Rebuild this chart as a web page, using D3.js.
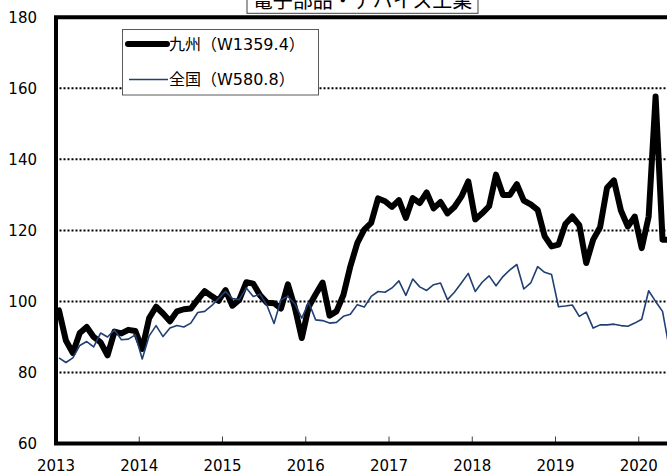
<!DOCTYPE html>
<html>
<head>
<meta charset="utf-8">
<script src="https://cdn.jsdelivr.net/npm/d3@7"></script>
<style>
  body { margin: 0; background: #fff; }
  svg { display: block; font-family: "DejaVu Sans", "Noto Sans CJK JP", sans-serif; }
</style>
</head>
<body>
<div id="chart"></div>
<script>
// monthly index, Jan 2013 .. May 2020
const yearLabels = [2013, 2014, 2015, 2016, 2017, 2018, 2019, 2020];
const yTicks = [60, 80, 100, 120, 140, 160, 180];
const gridValues = [80, 100, 120, 140, 160];
const chartTitle = "電子部品・デバイス工業";
const seriesNames = ["九州（W1359.4）", "全国（W580.8）"];

const kyushu = [
  97.5, 89.0, 85.5, 91.1, 92.8, 90.0, 88.5, 84.8, 91.5, 91.0, 92.0, 91.7,
  86.6, 95.3, 98.5, 96.6, 94.4, 97.2, 97.8, 98.0, 100.5, 102.9, 101.5, 100.2,
  103.2, 98.8, 100.5, 105.4, 105.0, 101.7, 99.6, 99.5, 98.0, 104.8, 98.3, 89.7,
  98.5, 102.0, 105.3, 96.0, 97.2, 101.8, 109.9, 116.4, 120.2, 122.1, 129.0, 128.2,
  126.6, 128.5, 123.5, 129.1, 127.7, 130.7, 126.2, 128.0, 124.8, 126.6, 129.5, 133.8,
  123.1, 124.8, 126.8, 135.7, 130.0, 130.0, 133.0, 128.4, 127.3, 125.8, 118.4, 115.5,
  116.0, 121.8, 123.9, 121.5, 110.8, 117.4, 120.9, 132.0, 134.1, 125.6, 121.1, 123.9,
  115.0, 123.9, 157.7, 117.4, 117.3
];
const zenkoku = [
  84.1, 82.8, 84.1, 87.6, 88.7, 87.2, 91.1, 90.0, 92.0, 89.2, 89.4, 90.6,
  83.8, 90.3, 93.2, 90.1, 92.5, 93.2, 92.8, 93.9, 96.9, 97.2, 98.8, 100.8,
  102.8, 100.8, 100.5, 103.8, 101.4, 102.0, 98.8, 93.8, 100.5, 101.4, 99.3, 95.3,
  99.7, 94.8, 94.6, 93.9, 94.1, 95.8, 96.4, 99.1, 98.4, 101.4, 102.8, 102.6,
  103.8, 105.8, 101.7, 106.3, 104.1, 103.1, 104.7, 105.2, 100.5, 102.6, 105.2, 107.9,
  102.8, 105.4, 107.2, 104.4, 107.0, 108.9, 110.4, 103.5, 105.2, 109.8, 108.2, 107.6,
  98.5, 98.7, 99.0, 95.8, 97.0, 92.5, 93.4, 93.4, 93.6, 93.2, 93.0, 93.9,
  95.0, 103.0, 100.0, 97.2, 86.5
];

const width = 667, height = 475;
const left = 55.5, monthW = 6.9375;
const nMonths = kyushu.length;

const svg = d3.select("#chart").append("svg")
    .attr("width", width)
    .attr("height", height);

const x = d3.scaleLinear()
    .domain([0, nMonths])
    .range([left, left + nMonths * monthW]);

const y = d3.scaleLinear()
    .domain([60, 180])
    .range([443.5, 17.3]);

// dotted gridlines
svg.append("g").selectAll("line")
    .data(gridValues)
    .enter().append("line")
    .attr("x1", left)
    .attr("x2", width)
    .attr("y1", d => y(d))
    .attr("y2", d => y(d))
    .attr("stroke", "#000")
    .attr("stroke-width", 2)
    .attr("stroke-dasharray", "2,2");

// x axis (ticks inside, labels below)
const xAxis = svg.append("g")
    .attr("transform", `translate(0,${y(60)})`)
    .call(d3.axisBottom(x)
        .tickValues(yearLabels.map((yr, i) => i * 12))
        .tickFormat((d, i) => yearLabels[i])
        .tickSizeInner(-7)
        .tickSizeOuter(0)
        .tickPadding(16.5));
xAxis.select(".domain").remove();
xAxis.selectAll(".tick line").attr("stroke", "#404040");
xAxis.selectAll("text").attr("font-size", 15).attr("fill", "#000")
    .style("font-family", "'DejaVu Sans', sans-serif");

// y axis labels
const yAxis = svg.append("g")
    .attr("transform", `translate(56,0)`)
    .call(d3.axisLeft(y).tickValues(yTicks).tickSize(0).tickPadding(19));
yAxis.select(".domain").remove();
yAxis.selectAll("text").attr("font-size", 15).attr("fill", "#000")
    .style("font-family", "'DejaVu Sans', sans-serif");

// thick plot border
svg.append("path")
    .attr("d", `M${width + 10},${y(180)}H56V${y(60)}H${width + 10}`)
    .attr("fill", "none")
    .attr("stroke", "#000")
    .attr("stroke-width", 4);

const line = d3.line()
    .x((d, i) => x(i + 0.5))
    .y(d => y(d));

svg.append("path")
    .datum(kyushu)
    .attr("d", line)
    .attr("fill", "none")
    .attr("stroke", "#000")
    .attr("stroke-width", 6)
    .attr("stroke-linejoin", "round")
    .attr("stroke-linecap", "round");

svg.append("path")
    .datum(zenkoku)
    .attr("d", line)
    .attr("fill", "none")
    .attr("stroke", "#203f73")
    .attr("stroke-width", 1.6)
    .attr("stroke-linejoin", "round");

// title box (cut off at the top, as in the original)
svg.append("rect")
    .attr("x", 247)
    .attr("y", -5)
    .attr("width", 231)
    .attr("height", 18.3)
    .attr("fill", "#fff")
    .attr("stroke", "#404040")
    .attr("stroke-width", 1);
svg.append("text")
    .attr("x", 362.5)
    .attr("y", 8)
    .attr("text-anchor", "middle")
    .attr("font-size", 20)
    .style("font-family", "'Noto Sans CJK JP', sans-serif")
    .text(chartTitle);

// legend
const legend = svg.append("g");
legend.append("rect")
    .attr("x", 122.5)
    .attr("y", 29.5)
    .attr("width", 196)
    .attr("height", 65.5)
    .attr("fill", "#fff")
    .attr("stroke", "#595959")
    .attr("stroke-width", 1);
legend.append("line")
    .attr("x1", 128).attr("x2", 167)
    .attr("y1", 44).attr("y2", 44)
    .attr("stroke", "#000")
    .attr("stroke-width", 6)
    .attr("stroke-linecap", "round");
legend.append("line")
    .attr("x1", 129).attr("x2", 168)
    .attr("y1", 79.5).attr("y2", 79.5)
    .attr("stroke", "#203f73")
    .attr("stroke-width", 1.6);
legend.selectAll("text")
    .data(seriesNames)
    .enter().append("text")
    .attr("x", 169)
    .attr("y", (d, i) => i === 0 ? 44 : 79.5)
    .attr("dy", "0.36em")
    .attr("font-size", 16)
    .text(d => d);
</script>
</body>
</html>
